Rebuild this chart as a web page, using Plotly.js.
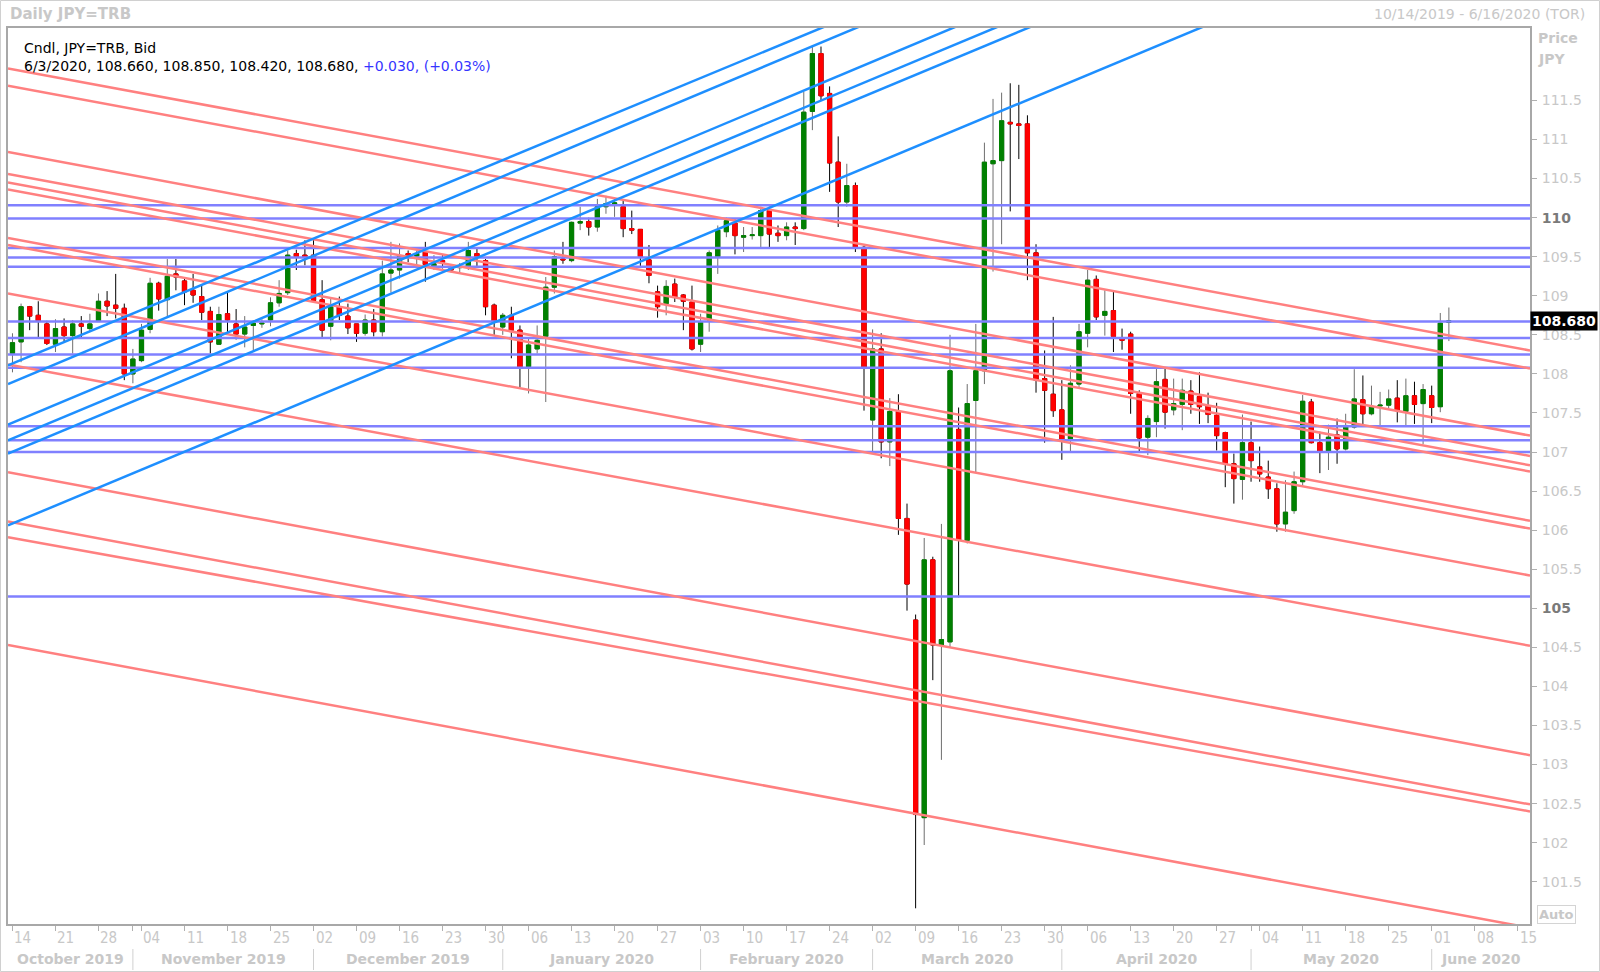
<!DOCTYPE html>
<html>
<head>
<meta charset="utf-8">
<script src="https://cdn.plot.ly/plotly-3.0.1.min.js"></script>
<style>
html, body { margin: 0; padding: 0; background: #ffffff; }
#chart { width: 1600px; height: 972px; }
</style>
</head>
<body>
<div id="chart"></div>
<script>
// ---------------- DATA ----------------
const firstTradingDay = '2019-10-14';

const openP = [
108.26,108.41,108.86,108.75,108.64,108.38,108.60,108.49,108.64,108.58,
108.67,108.93,108.88,108.84,108.00,108.17,108.57,109.16,108.95,109.28,
109.19,109.07,108.99,108.80,108.38,108.77,108.64,108.51,108.62,108.64,
108.69,108.91,109.04,109.54,109.52,109.52,108.95,108.61,108.86,108.74,
108.64,108.52,108.69,108.54,109.29,109.33,109.54,109.51,109.56,109.38,
109.45,109.35,109.36,109.38,109.54,109.45,108.88,108.60,108.75,108.56,
108.09,108.32,108.48,109.11,109.47,109.45,109.93,109.95,109.88,110.14,
110.17,110.14,109.86,109.85,109.46,109.05,108.90,109.15,109.01,108.92,
108.38,108.69,109.50,109.82,109.93,109.75,109.77,109.77,110.09,109.80,
109.77,109.88,109.86,111.36,112.10,111.59,110.71,110.20,110.41,109.62,
107.41,108.32,107.13,107.52,106.15,104.85,102.32,105.62,104.53,104.57,
107.29,105.87,107.66,108.04,110.69,110.73,111.22,111.20,111.20,109.55,
107.94,107.74,107.54,107.17,107.87,108.52,109.21,108.75,108.81,108.45,
108.51,107.75,107.19,107.39,107.93,107.54,107.61,107.78,107.71,107.59,
107.47,107.25,106.85,106.65,107.12,106.81,106.68,106.53,106.08,106.25,
106.62,107.64,107.12,107.01,107.22,107.04,107.32,107.67,107.49,107.59,
107.60,107.69,107.52,107.72,107.62,107.72,107.58,108.66];

const highP = [
108.52,108.90,108.87,108.93,108.68,108.70,108.71,108.69,108.74,108.77,
109.03,109.06,109.28,108.90,108.32,108.64,109.23,109.18,109.47,109.47,
109.24,109.28,109.15,108.86,108.86,109.05,108.83,108.74,108.69,108.70,
108.98,109.20,109.58,109.59,109.71,109.72,109.20,108.98,108.99,108.90,
108.64,108.76,108.83,109.45,109.69,109.67,109.58,109.58,109.69,109.52,
109.52,109.39,109.42,109.69,109.60,109.47,108.90,108.78,108.86,108.62,
108.45,108.62,109.24,109.58,109.69,109.95,110.14,110.00,110.24,110.28,
110.26,110.22,110.09,109.85,109.65,109.13,109.20,109.22,109.02,109.13,
108.77,109.58,109.90,110.00,109.99,109.88,109.88,110.14,110.14,109.90,
109.94,109.94,111.61,112.20,112.19,111.68,111.04,110.69,110.45,109.64,
108.57,108.52,107.69,107.74,106.34,104.92,105.90,105.66,106.08,108.50,
107.57,107.87,108.64,110.96,111.52,111.60,111.72,111.70,111.31,109.66,
108.30,108.73,107.92,108.11,108.64,109.33,109.26,109.07,109.05,108.58,
108.54,107.79,107.47,108.07,108.07,107.94,107.94,107.92,108.02,107.76,
107.63,107.26,106.98,107.48,107.39,107.07,106.89,106.60,106.64,106.75,
107.73,107.68,107.26,107.35,107.43,107.49,108.06,107.98,107.85,107.77,
107.80,107.92,107.94,107.90,107.87,107.85,108.78,108.85];

const lowP = [
108.02,108.15,108.56,108.47,108.37,108.28,108.41,108.26,108.47,108.54,
108.67,108.74,108.71,107.92,107.88,108.15,108.52,108.81,108.73,109.07,
108.88,108.91,108.69,108.26,108.37,108.52,108.44,108.34,108.30,108.59,
108.61,108.86,109.01,109.33,109.39,108.92,108.47,108.43,108.69,108.51,
108.41,108.49,108.48,108.48,109.04,109.22,109.43,109.37,109.18,109.33,
109.35,109.30,109.29,109.33,109.37,108.75,108.49,108.50,108.20,107.83,
107.75,108.26,107.64,109.03,109.41,109.43,109.84,109.77,109.82,110.05,
110.01,109.75,109.79,109.37,109.16,108.72,108.75,108.92,108.56,108.30,
108.28,108.54,109.28,109.75,109.53,109.56,109.72,109.62,109.62,109.69,
109.71,109.65,109.84,111.12,111.50,110.33,109.88,110.14,109.56,107.53,
106.99,106.92,106.82,105.94,104.97,101.16,101.97,104.08,103.06,104.50,
105.14,105.83,106.74,107.87,109.31,109.66,110.08,110.75,109.20,107.76,
107.12,107.45,106.90,107.00,107.83,108.34,108.69,108.49,108.28,108.31,
107.49,107.00,106.96,107.19,107.30,107.47,107.28,107.49,107.36,107.37,
107.02,106.55,106.34,106.39,106.62,106.62,106.40,105.98,105.98,106.21,
106.57,107.11,106.73,106.77,106.85,107.02,107.30,107.34,107.47,107.34,
107.56,107.38,107.34,107.36,107.10,107.37,107.51,108.42];

const closeP = [
108.40,108.86,108.74,108.68,108.39,108.58,108.49,108.64,108.61,108.64,
108.93,108.87,108.84,108.00,108.19,108.56,109.16,108.96,109.25,109.24,
109.05,109.01,108.79,108.41,108.76,108.69,108.51,108.60,108.65,108.65,
108.91,109.03,109.52,109.50,109.50,108.94,108.56,108.86,108.75,108.59,
108.52,108.69,108.54,109.28,109.33,109.51,109.51,109.54,109.40,109.41,
109.43,109.33,109.37,109.58,109.50,108.86,108.66,108.75,108.56,108.09,
108.37,108.43,109.11,109.50,109.46,109.94,109.95,109.88,110.14,110.18,
110.19,109.86,109.84,109.50,109.26,108.86,109.12,108.98,108.93,108.32,
108.66,109.55,109.84,109.96,109.77,109.77,109.78,110.09,109.79,109.77,
109.88,109.86,111.35,112.10,111.56,110.70,110.20,110.41,109.62,108.08,
108.32,107.13,107.52,106.15,105.31,102.36,105.62,104.53,104.60,108.04,
105.87,107.62,108.04,110.71,110.73,111.24,111.20,111.18,109.55,107.92,
107.79,107.53,107.15,107.88,108.54,109.20,108.73,108.80,108.48,108.43,
107.75,107.18,107.43,107.90,107.51,107.62,107.79,107.61,107.58,107.48,
107.21,106.85,106.66,107.12,106.89,106.72,106.53,106.08,106.23,106.62,
107.65,107.12,107.01,107.19,107.04,107.34,107.68,107.49,107.58,107.60,
107.68,107.53,107.72,107.61,107.80,107.57,108.65,108.68];

const weekTickLabels = ['14','21','28','04','11','18','25','02','09','16','23','30',
  '06','13','20','27','03','10','17','24','02','09','16','23','30','06','13','20',
  '27','04','11','18','25','01','08','15'];

const monthNames = ['October 2019','November 2019','December 2019','January 2020',
  'February 2020','March 2020','April 2020','May 2020','June 2020'];

const priceTicks = [101.5,102,102.5,103,103.5,104,104.5,105,105.5,106,106.5,
  107,107.5,108,108.5,109,109.5,110,110.5,111,111.5];
const boldPriceTicks = [105, 110];

// drawn trend lines: price at the left and at the right edge of the chart
const redLineLeft  = [111.91,111.69,110.84,110.56,110.45,110.36,109.74,109.65,109.03,108.12,106.74,106.11,105.91,104.53];
const redLineRight = [108.30,108.07,107.21,106.95,106.83,106.75,106.12,106.02,105.42,104.52,103.12,102.49,102.40,100.91];
const blueLineLeft  = [108.11,107.87,107.35,107.15,106.98,106.06];
const blueLineRight = [116.19,116.05,115.53,115.29,115.11,114.19];
const levelLines = [110.16,109.99,109.61,109.49,109.37,108.67,108.46,108.25,108.08,107.33,107.15,107.00,105.15];

// ---------------- BUILD ----------------
function tradingDays(start, n) {
  const out = [];
  const d = new Date(start + 'T00:00:00Z');
  while (out.length < n) {
    const wd = d.getUTCDay();
    if (wd !== 0 && wd !== 6) out.push(new Date(d.getTime()));
    d.setUTCDate(d.getUTCDate() + 1);
  }
  return out;
}
const dates = tradingDays(firstTradingDay, closeP.length);
const idx = dates.map((_, i) => i);

const xRange = [-0.52, 176.43];
const yRange = [100.959, 112.4275];

// month starts
const monthStarts = [];
dates.forEach((d, i) => { if (i > 0 && d.getUTCMonth() !== dates[i - 1].getUTCMonth()) monthStarts.push(i); });
const monthBounds = [xRange[0]].concat(monthStarts, [xRange[1]]);

const weekTickVals = weekTickLabels.map((_, k) => k * 5);
const tickVals = weekTickVals.concat(monthStarts);

const bodyHigh = openP.map((o, i) => Math.max(o, closeP[i]));
const bodyLow = openP.map((o, i) => Math.min(o, closeP[i]));

function segments(lefts, rights) {
  const x = [], y = [];
  lefts.forEach((l, k) => { x.push(xRange[0], xRange[1], null); y.push(l, rights[k], null); });
  return { x, y };
}
const redSeg = segments(redLineLeft, redLineRight);
const blueSeg = segments(blueLineLeft, blueLineRight);
const levelSeg = segments(levelLines, levelLines);

const traces = [
  { type: 'candlestick', x: idx, open: openP, high: highP, low: lowP, close: closeP,
    increasing: { line: { color: '#6e6e6e', width: 1 }, fillcolor: '#008000' },
    decreasing: { line: { color: '#000000', width: 1 }, fillcolor: '#ff0000' },
    hoverinfo: 'skip', showlegend: false },
  { type: 'candlestick', x: idx, open: openP, high: bodyHigh, low: bodyLow, close: closeP,
    increasing: { line: { color: '#008000', width: 1 }, fillcolor: '#008000' },
    decreasing: { line: { color: '#ff0000', width: 1 }, fillcolor: '#ff0000' },
    hoverinfo: 'skip', showlegend: false },
  { type: 'scatter', mode: 'lines', x: levelSeg.x, y: levelSeg.y, connectgaps: false,
    line: { color: '#8080ff', width: 2.5 }, hoverinfo: 'skip', showlegend: false },
  { type: 'scatter', mode: 'lines', x: redSeg.x, y: redSeg.y, connectgaps: false,
    line: { color: '#ff8080', width: 2.5 }, hoverinfo: 'skip', showlegend: false },
  { type: 'scatter', mode: 'lines', x: blueSeg.x, y: blueSeg.y, connectgaps: false,
    line: { color: '#1e8fff', width: 2.5 }, hoverinfo: 'skip', showlegend: false }
];

// ---------------- LAYOUT ----------------
const W = 1600, H = 972;
const M = { l: 8, r: 70, t: 28, b: 48 };
const PW = W - M.l - M.r, PH = H - M.t - M.b;
const px = v => (v - M.l) / PW;           // pixel x -> paper
const py = v => (H - M.b - v) / PH;       // pixel y -> paper

const lightGrey = '#c8c8c8';
const mainFont = 'DejaVu Sans, Verdana, sans-serif';
const narrowFont = 'Liberation Sans Narrow, DejaVu Sans Condensed, Arial Narrow, sans-serif';

const n = closeP.length - 1;
const last = dates[n];
const chg = closeP[n] - closeP[n - 1];
const pct = chg / closeP[n - 1] * 100;
const sgn = chg >= 0 ? '+' : '-';
const legendLine2 = (last.getUTCMonth() + 1) + '/' + last.getUTCDate() + '/' + last.getUTCFullYear() + ', ' +
  openP[n].toFixed(3) + ', ' + highP[n].toFixed(3) + ', ' + lowP[n].toFixed(3) + ', ' + closeP[n].toFixed(3) + ', ' +
  '<span style="color:#3535ff">' + sgn + Math.abs(chg).toFixed(3) + ', (' + sgn + Math.abs(pct).toFixed(2) + '%)</span>';

const annotations = [
  { xref: 'paper', yref: 'paper', x: px(1587), y: py(14), xanchor: 'right', yanchor: 'middle',
    text: '10/14/2019 - 6/16/2020 (TOR)', showarrow: false, font: { family: mainFont, size: 14, color: lightGrey } },
  { xref: 'paper', yref: 'paper', x: px(1536), y: py(38), xanchor: 'left', yanchor: 'middle',
    text: '<b>Price</b>', showarrow: false, font: { family: mainFont, size: 14, color: lightGrey } },
  { xref: 'paper', yref: 'paper', x: px(1536), y: py(59), xanchor: 'left', yanchor: 'middle',
    text: '<b>JPY</b>', showarrow: false, font: { family: mainFont, size: 14, color: lightGrey } },
  { xref: 'paper', yref: 'paper', x: px(22), y: py(47.5), xanchor: 'left', yanchor: 'middle',
    text: 'Cndl, JPY=TRB, Bid', showarrow: false, font: { family: mainFont, size: 14, color: '#000000' } },
  { xref: 'paper', yref: 'paper', x: px(22), y: py(65.5), xanchor: 'left', yanchor: 'middle',
    text: legendLine2, showarrow: false, font: { family: mainFont, size: 14, color: '#000000' } },
  { xref: 'paper', yref: 'y', x: 1, y: closeP[n], xanchor: 'left', yanchor: 'middle',
    text: '<b>' + closeP[n].toFixed(3) + '</b>', showarrow: false, bgcolor: '#000000', borderpad: 1,
    font: { family: mainFont, size: 14, color: '#ffffff' } },
  { xref: 'paper', yref: 'paper', x: px(1537), y: py(914), xanchor: 'left', yanchor: 'middle',
    text: '<b>Auto</b>', showarrow: false, bordercolor: '#d4d4d4', borderwidth: 1, borderpad: 1,
    font: { family: mainFont, size: 13, color: lightGrey } }
];
// weekly day-of-month labels (start at their tick)
weekTickLabels.forEach((t, k) => {
  annotations.push({ xref: 'x', yref: 'paper', x: weekTickVals[k], y: py(938), xanchor: 'left', yanchor: 'middle',
    xshift: 0, text: t, showarrow: false, font: { family: narrowFont, size: 15, color: lightGrey } });
});
monthNames.forEach((m, k) => {
  annotations.push({ xref: 'x', yref: 'paper', x: (monthBounds[k] + monthBounds[k + 1]) / 2, y: py(959),
    xanchor: 'center', yanchor: 'middle', text: '<b>' + m + '</b>', showarrow: false,
    font: { family: mainFont, size: 14, color: lightGrey } });
});

const shapes = [
  { type: 'rect', xref: 'paper', yref: 'paper', x0: px(0.5), x1: px(1599.5), y0: py(971.5), y1: py(0.5),
    line: { color: '#d0d0d0', width: 1 }, layer: 'below' }
];
monthStarts.forEach(i => {
  shapes.push({ type: 'line', xref: 'x', yref: 'paper', x0: i, x1: i, y0: py(949), y1: py(970),
    line: { color: '#d0d0d0', width: 1 } });
});

const layout = {
  width: W, height: H,
  margin: M,
  paper_bgcolor: '#ffffff', plot_bgcolor: '#ffffff',
  showlegend: false,
  title: { text: '<b>Daily JPY=TRB</b>', x: 10 / W, xanchor: 'left', y: 1 - 14 / H, yanchor: 'middle',
    font: { family: mainFont, size: 15, color: lightGrey } },
  xaxis: {
    type: 'linear', range: xRange, fixedrange: true,
    rangeslider: { visible: false },
    showgrid: false, zeroline: false,
    showline: true, mirror: true, linecolor: '#a8a8a8', linewidth: 2,
    ticks: 'outside', ticklen: 5, tickwidth: 1, tickcolor: '#b0b0b0',
    tickmode: 'array', tickvals: tickVals, ticktext: tickVals.map(() => ''),
    showticklabels: false
  },
  yaxis: {
    side: 'right', range: yRange, fixedrange: true,
    showgrid: false, zeroline: false,
    showline: true, mirror: true, linecolor: '#a8a8a8', linewidth: 2,
    ticks: 'outside', ticklen: 5, tickwidth: 1, tickcolor: '#b0b0b0',
    tickmode: 'array', tickvals: priceTicks,
    ticktext: priceTicks.map(v => boldPriceTicks.includes(v)
      ? '<span style="color:#7a7a7a"><b>' + v + '</b></span>' : String(v)),
    ticklabelstandoff: 2,
    tickfont: { family: mainFont, size: 14, color: lightGrey }
  },
  annotations: annotations,
  shapes: shapes
};

Plotly.newPlot('chart', traces, layout, { staticPlot: true, displayModeBar: false });
</script>
</body>
</html>
